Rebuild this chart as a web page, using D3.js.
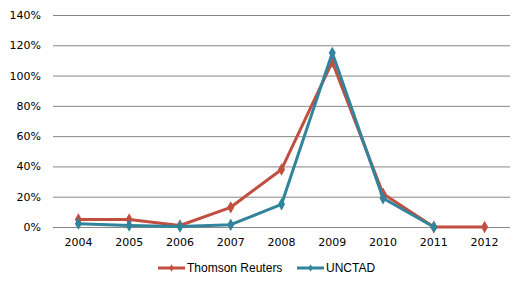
<!DOCTYPE html>
<html>
<head>
<meta charset="utf-8">
<script src="https://cdn.jsdelivr.net/npm/d3@7"></script>
<style>
  body { margin: 0; background: #fff; }
  text { font-family: "DejaVu Sans", Verdana, sans-serif; font-size: 11px; fill: #000; }
  .legend-label { font-family: "Liberation Sans", Arial, sans-serif; font-size: 12px; }
</style>
</head>
<body>
<svg id="chart"></svg>
<script>
const years = ["2004", "2005", "2006", "2007", "2008", "2009", "2010", "2011", "2012"];
const thomsonReuters = [5, 5, 1, 13, 38, 109, 22, 0, 0];
const unctad = [2.2, 1, 0.3, 1.5, 15, 115, 19, 0, null];
const yTicks = [0, 20, 40, 60, 80, 100, 120, 140];
const seriesNames = ["Thomson Reuters", "UNCTAD"];

const config = {
  width: 525,
  height: 290,
  margin: { top: 15, right: 15, bottom: 63, left: 53 },
  colors: ["#c04f40", "#31849b"],
};

const svg = d3.select("#chart")
  .attr("width", config.width)
  .attr("height", config.height);

const innerW = config.width - config.margin.left - config.margin.right;
const innerH = config.height - config.margin.top - config.margin.bottom;

const chart = svg.append("g")
  .attr("transform", `translate(${config.margin.left},${config.margin.top})`);

const x = d3.scaleBand().domain(years).range([0, innerW]);
const y = d3.scaleLinear().domain([0, 140]).range([innerH, 0]);

// gridlines + y labels
const yAxis = chart.append("g")
  .call(d3.axisLeft(y).tickValues(yTicks).tickSize(-innerW).tickPadding(12)
    .tickFormat(d => d + "%"));
yAxis.select(".domain").remove();
yAxis.selectAll(".tick line").attr("stroke", "#868686");

// x labels
const xAxis = chart.append("g")
  .attr("transform", `translate(0,${innerH})`)
  .call(d3.axisBottom(x).tickSize(0).tickPadding(11));
xAxis.select(".domain").remove();

const series = [thomsonReuters, unctad];
const line = d3.line()
  .defined(d => d != null)
  .x((d, i) => x(years[i]) + x.bandwidth() / 2)
  .y(d => y(d));

const diamond = d3.symbol().type(d3.symbolDiamond).size(44);

series.forEach((values, s) => {
  chart.append("path")
    .datum(values)
    .attr("fill", "none")
    .attr("stroke", config.colors[s])
    .attr("stroke-width", 3)
    .attr("stroke-linejoin", "round")
    .attr("d", line);

  chart.selectAll(".m" + s)
    .data(values.map((v, i) => ({ v, i })).filter(d => d.v != null))
    .join("path")
    .attr("class", "m" + s)
    .attr("transform", d => `translate(${x(years[d.i]) + x.bandwidth() / 2},${y(d.v)})`)
    .attr("d", diamond)
    .attr("fill", config.colors[s]);
});

// legend
const legendY = 268;
const legendItems = [
  { name: seriesNames[0], x0: 158 },
  { name: seriesNames[1], x0: 297 },
];
legendItems.forEach((item, s) => {
  const g = svg.append("g").attr("transform", `translate(${item.x0},${legendY})`);
  g.append("line")
    .attr("x1", 0).attr("x2", 27)
    .attr("stroke", config.colors[s])
    .attr("stroke-width", 3);
  g.append("path")
    .attr("transform", "translate(13.5,0)")
    .attr("d", d3.symbol().type(d3.symbolDiamond).size(16))
    .attr("fill", config.colors[s]);
  g.append("text")
    .attr("class", "legend-label")
    .attr("x", 29)
    .attr("dy", "0.35em")
    .text(item.name);
});
</script>
</body>
</html>
